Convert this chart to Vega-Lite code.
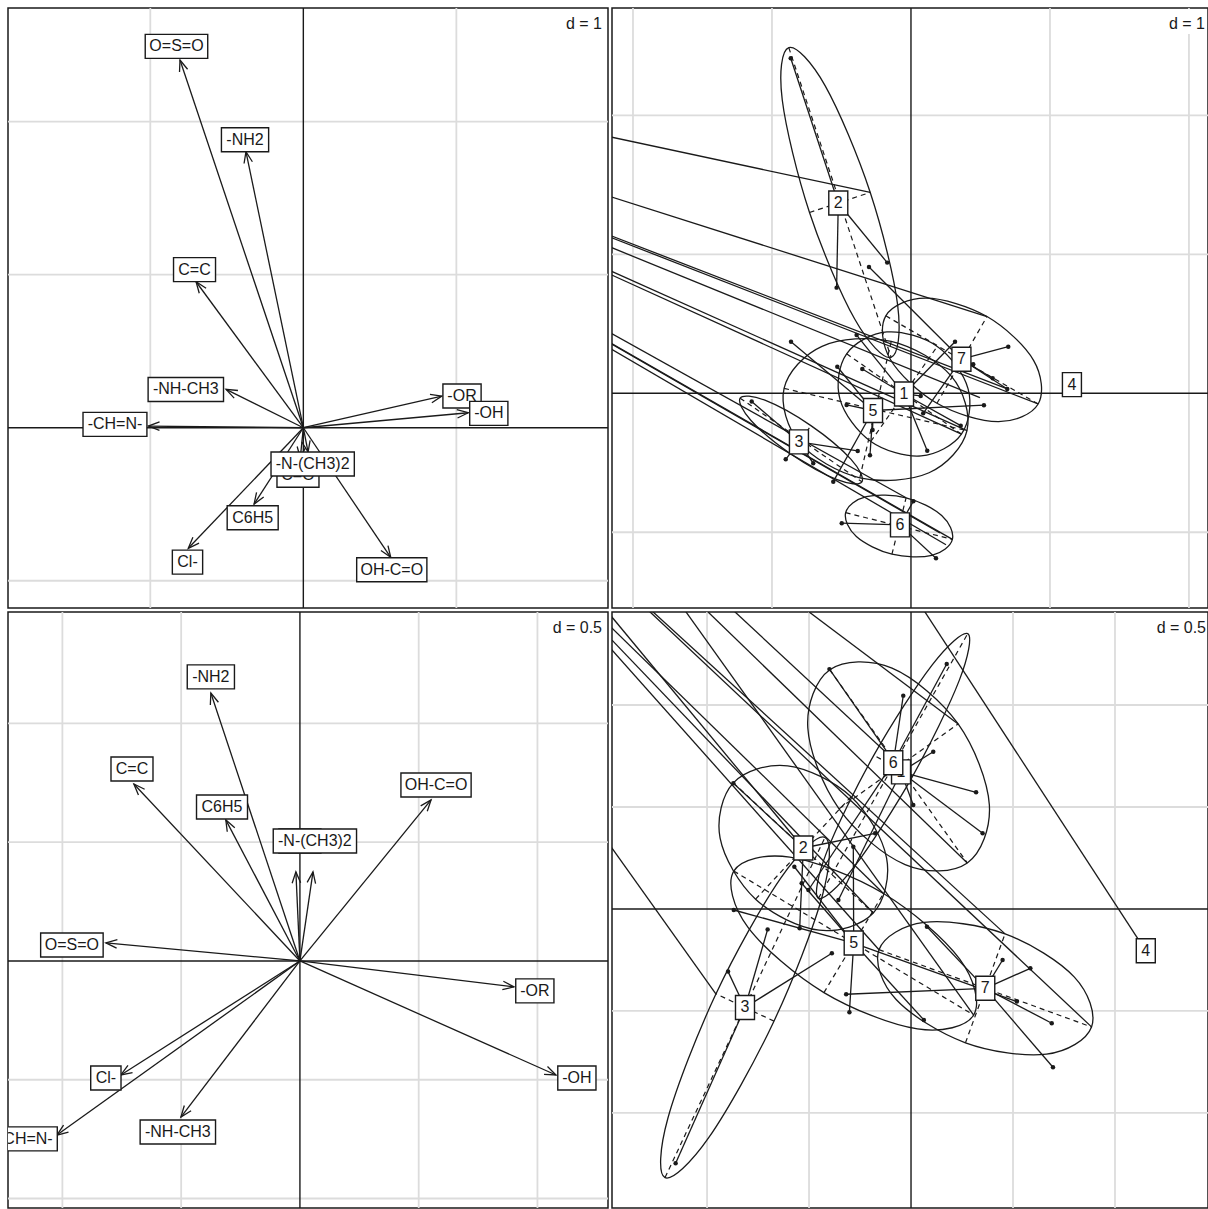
{
"$schema":"https://vega.github.io/schema/vega-lite/v6.json",
"background":"white",
"padding":{"left":6,"top":6,"right":0,"bottom":0},
"spacing":0,
"config":{"view":{"stroke":"#1a1a1a","strokeWidth":1.5},"font":"Liberation Sans"},
"datasets":{
"tl_arrows":[
{"label":"O=S=O","x":-0.806,"y":2.403,"lx":-0.829,"ly":2.492},
{"label":"-NH2","x":-0.375,"y":1.804,"lx":-0.381,"ly":1.882},
{"label":"C=C","x":-0.701,"y":0.954,"lx":-0.711,"ly":1.033},
{"label":"-NH-CH3","x":-0.505,"y":0.251,"lx":-0.768,"ly":0.250},
{"label":"-CH=N-","x":-1.013,"y":0.011,"lx":-1.231,"ly":0.022},
{"label":"C=O","x":-0.020,"y":-0.198,"lx":-0.035,"ly":-0.31},
{"label":"-N-(CH3)2","x":0.031,"y":-0.159,"lx":0.061,"ly":-0.237},
{"label":"C6H5","x":-0.322,"y":-0.499,"lx":-0.331,"ly":-0.588},
{"label":"Cl-","x":-0.752,"y":-0.788,"lx":-0.757,"ly":-0.878},
{"label":"-OR","x":0.905,"y":0.207,"lx":1.037,"ly":0.207},
{"label":"-OH","x":1.078,"y":0.098,"lx":1.212,"ly":0.094},
{"label":"OH-C=O","x":0.571,"y":-0.847,"lx":0.578,"ly":-0.928}
],
"bl_arrows":[
{"label":"-NH2","x":-0.375,"y":1.128,"lx":-0.375,"ly":1.196},
{"label":"C=C","x":-0.699,"y":0.745,"lx":-0.707,"ly":0.808},
{"label":"C6H5","x":-0.312,"y":0.594,"lx":-0.328,"ly":0.648},
{"label":"C=O","x":-0.017,"y":0.375,"lx":0.0,"ly":0.505},
{"label":"-N-(CH3)2","x":0.055,"y":0.375,"lx":0.063,"ly":0.505},
{"label":"OH-C=O","x":0.552,"y":0.678,"lx":0.573,"ly":0.741},
{"label":"O=S=O","x":-0.817,"y":0.076,"lx":-0.960,"ly":0.067},
{"label":"-OR","x":0.901,"y":-0.109,"lx":0.989,"ly":-0.126},
{"label":"-OH","x":1.078,"y":-0.480,"lx":1.166,"ly":-0.493},
{"label":"Cl-","x":-0.754,"y":-0.480,"lx":-0.817,"ly":-0.493},
{"label":"-NH-CH3","x":-0.501,"y":-0.657,"lx":-0.514,"ly":-0.720},
{"label":"-CH=N-","x":-1.023,"y":-0.733,"lx":-1.156,"ly":-0.749}
],
"tr_cen":[
{"label":"1","cx":-0.050,"cy":-0.005},{"label":"2","cx":-0.523,"cy":1.369},{"label":"3","cx":-0.806,"cy":-0.350},{"label":"4","cx":1.158,"cy":0.062},{"label":"5","cx":-0.273,"cy":-0.124},{"label":"6","cx":-0.079,"cy":-0.947},{"label":"7","cx":0.363,"cy":0.245}
],
"tr_pts":[
{"g":"1","x":0.317,"y":0.371},{"g":"1","x":-0.350,"y":0.175},{"g":"1","x":0.070,"y":-0.019},{"g":"1","x":0.358,"y":-0.233},{"g":"1","x":0.117,"y":-0.413},{"g":"1","x":-0.391,"y":0.419},
{"g":"2","x":-0.865,"y":2.410},{"g":"2","x":-0.535,"y":0.760},{"g":"2","x":-0.171,"y":0.940},
{"g":"3","x":-1.146,"y":-0.060},{"g":"3","x":-0.901,"y":-0.475},{"g":"3","x":-0.703,"y":-0.504},{"g":"3","x":-0.383,"y":-0.415},
{"g":"4","x":1.158,"y":0.062},
{"g":"5","x":-0.863,"y":0.371},{"g":"5","x":-0.463,"y":-0.084},{"g":"5","x":0.525,"y":-0.086},{"g":"5","x":-0.295,"y":-0.446},{"g":"5","x":-0.276,"y":-0.264},{"g":"5","x":-0.559,"y":-0.636},{"g":"5","x":-0.530,"y":0.191},
{"g":"6","x":-0.498,"y":-0.935},{"g":"6","x":0.017,"y":-0.777},{"g":"6","x":0.180,"y":-1.187},
{"g":"7","x":-0.302,"y":0.909},{"g":"7","x":0.700,"y":0.335},{"g":"7","x":0.448,"y":0.209},{"g":"7","x":0.588,"y":0.108},{"g":"7","x":0.693,"y":0.031},{"g":"7","x":0.088,"y":-0.144}
],
"tr_ell":[
{"e":"1","o":0,"x":0.363,"y":-0.294},{"e":"1","o":1,"x":0.411,"y":0.032},{"e":"1","o":2,"x":0.189,"y":0.337},{"e":"1","o":3,"x":-0.173,"y":0.441},{"e":"1","o":4,"x":-0.463,"y":0.284},{"e":"1","o":5,"x":-0.511,"y":-0.042},{"e":"1","o":6,"x":-0.289,"y":-0.347},{"e":"1","o":7,"x":0.073,"y":-0.451},
{"e":"2","o":0,"x":-0.143,"y":0.259},{"e":"2","o":1,"x":-0.096,"y":0.636},{"e":"2","o":2,"x":-0.293,"y":1.445},{"e":"2","o":3,"x":-0.617,"y":2.212},{"e":"2","o":4,"x":-0.879,"y":2.487},{"e":"2","o":5,"x":-0.926,"y":2.110},{"e":"2","o":6,"x":-0.730,"y":1.301},{"e":"2","o":7,"x":-0.405,"y":0.534},
{"e":"3","o":0,"x":-0.353,"y":-0.637},{"e":"3","o":1,"x":-0.431,"y":-0.476},{"e":"3","o":2,"x":-0.720,"y":-0.233},{"e":"3","o":3,"x":-1.051,"y":-0.050},{"e":"3","o":4,"x":-1.229,"y":-0.035},{"e":"3","o":5,"x":-1.151,"y":-0.196},{"e":"3","o":6,"x":-0.862,"y":-0.439},{"e":"3","o":7,"x":-0.531,"y":-0.622},
{"e":"5","o":0,"x":0.403,"y":-0.269},{"e":"5","o":1,"x":0.290,"y":0.123},{"e":"5","o":2,"x":-0.142,"y":0.374},{"e":"5","o":3,"x":-0.640,"y":0.338},{"e":"5","o":4,"x":-0.913,"y":0.035},{"e":"5","o":5,"x":-0.800,"y":-0.357},{"e":"5","o":6,"x":-0.368,"y":-0.608},{"e":"5","o":7,"x":0.130,"y":-0.572},
{"e":"6","o":0,"x":0.298,"y":-1.051},{"e":"6","o":1,"x":0.221,"y":-0.879},{"e":"6","o":2,"x":-0.035,"y":-0.752},{"e":"6","o":3,"x":-0.322,"y":-0.744},{"e":"6","o":4,"x":-0.470,"y":-0.859},{"e":"6","o":5,"x":-0.393,"y":-1.031},{"e":"6","o":6,"x":-0.137,"y":-1.158},{"e":"6","o":7,"x":0.150,"y":-1.166},
{"e":"7","o":0,"x":0.915,"y":-0.077},{"e":"7","o":1,"x":0.882,"y":0.237},{"e":"7","o":2,"x":0.547,"y":0.552},{"e":"7","o":3,"x":0.107,"y":0.684},{"e":"7","o":4,"x":-0.181,"y":0.557},{"e":"7","o":5,"x":-0.148,"y":0.243},{"e":"7","o":6,"x":0.187,"y":-0.072},{"e":"7","o":7,"x":0.627,"y":-0.204}
],
"tr_ax":[
{"x":-0.463,"y":0.284,"x2":0.363,"y2":-0.294},{"x":-0.289,"y":-0.347,"x2":0.189,"y2":0.337},
{"x":-0.879,"y":2.487,"x2":-0.143,"y2":0.259},{"x":-0.730,"y":1.301,"x2":-0.293,"y2":1.445},
{"x":-1.229,"y":-0.035,"x2":-0.353,"y2":-0.637},{"x":-0.862,"y":-0.439,"x2":-0.720,"y2":-0.233},
{"x":-0.913,"y":0.035,"x2":0.403,"y2":-0.269},{"x":-0.368,"y":-0.608,"x2":-0.142,"y2":0.374},
{"x":-0.470,"y":-0.859,"x2":0.298,"y2":-1.051},{"x":-0.137,"y":-1.158,"x2":-0.035,"y2":-0.752},
{"x":-0.181,"y":0.557,"x2":0.915,"y2":-0.077},{"x":0.187,"y":-0.072,"x2":0.547,"y2":0.552}
],
"tr_long":[
{"x":-6.266,"y":2.722,"x2":-0.293,"y2":1.445},
{"x":-6.266,"y":2.722,"x2":0.547,"y2":0.552},
{"x":-6.266,"y":2.722,"x2":0.693,"y2":0.031},
{"x":-6.266,"y":2.722,"x2":0.915,"y2":-0.077},
{"x":-6.266,"y":2.722,"x2":0.496,"y2":-0.031},
{"x":-6.266,"y":2.722,"x2":0.363,"y2":-0.294},
{"x":-6.266,"y":2.722,"x2":0.403,"y2":-0.269},
{"x":-6.266,"y":2.722,"x2":-0.035,"y2":-0.752},
{"x":-6.266,"y":2.722,"x2":0.298,"y2":-1.051},
{"x":-6.266,"y":2.722,"x2":0.209,"y2":-1.005},
{"x":-6.266,"y":2.722,"x2":0.252,"y2":-1.090}
],
"br_cen":[
{"label":"1","cx":-0.049,"cy":0.672},{"label":"2","cx":-0.528,"cy":0.299},{"label":"3","cx":-0.814,"cy":-0.483},{"label":"4","cx":1.151,"cy":-0.205},{"label":"5","cx":-0.281,"cy":-0.167},{"label":"6","cx":-0.087,"cy":0.717},{"label":"7","cx":0.364,"cy":-0.389}
],
"br_pts":[
{"g":"1","x":0.319,"y":0.572},{"g":"1","x":0.351,"y":0.371},{"g":"1","x":-0.356,"y":0.044},{"g":"1","x":0.109,"y":0.771},{"g":"1","x":-0.400,"y":1.176},{"g":"1","x":0.011,"y":0.510},
{"g":"2","x":-0.871,"y":0.616},{"g":"2","x":-0.546,"y":-0.095},{"g":"2","x":-0.176,"y":0.371},
{"g":"3","x":-1.154,"y":-1.247},{"g":"3","x":-0.897,"y":-0.307},{"g":"3","x":-0.703,"y":-0.100},{"g":"3","x":-0.388,"y":-0.217},
{"g":"4","x":1.151,"y":-0.205},
{"g":"5","x":-0.869,"y":-0.005},{"g":"5","x":0.519,"y":-0.454},{"g":"5","x":-0.283,"y":0.305},{"g":"5","x":-0.302,"y":-0.506},{"g":"5","x":-0.572,"y":0.207},{"g":"5","x":-0.536,"y":0.126},{"g":"5","x":0.063,"y":-0.544},
{"g":"6","x":0.175,"y":1.201},{"g":"6","x":-0.038,"y":1.046},{"g":"6","x":-0.503,"y":0.093},
{"g":"7","x":0.078,"y":-0.087},{"g":"7","x":0.449,"y":-0.250},{"g":"7","x":0.585,"y":-0.291},{"g":"7","x":0.690,"y":-0.560},{"g":"7","x":0.696,"y":-0.776},{"g":"7","x":-0.318,"y":-0.418}
],
"br_ell":[
{"e":"1","o":0,"x":0.276,"y":0.2255},{"e":"1","o":1,"x":0.384,"y":0.511},{"e":"1","o":2,"x":0.231,"y":0.907},{"e":"1","o":3,"x":-0.093,"y":1.1805},{"e":"1","o":4,"x":-0.398,"y":1.1725},{"e":"1","o":5,"x":-0.506,"y":0.887},{"e":"1","o":6,"x":-0.353,"y":0.491},{"e":"1","o":7,"x":-0.029,"y":0.2175},
{"e":"6","o":0,"x":0.278,"y":1.350},{"e":"6","o":1,"x":0.104,"y":1.197},{"e":"6","o":2,"x":-0.182,"y":0.754},{"e":"6","o":3,"x":-0.413,"y":0.280},{"e":"6","o":4,"x":-0.454,"y":0.052},{"e":"6","o":5,"x":-0.280,"y":0.205},{"e":"6","o":6,"x":0.006,"y":0.648},{"e":"6","o":7,"x":0.237,"y":1.122},
{"e":"2","o":0,"x":-0.185,"y":-0.020},{"e":"2","o":1,"x":-0.120,"y":0.251},{"e":"2","o":2,"x":-0.294,"y":0.550},{"e":"2","o":3,"x":-0.605,"y":0.702},{"e":"2","o":4,"x":-0.871,"y":0.618},{"e":"2","o":5,"x":-0.936,"y":0.347},{"e":"2","o":6,"x":-0.762,"y":0.048},{"e":"2","o":7,"x":-0.451,"y":-0.104},
{"e":"3","o":0,"x":-0.422,"y":0.351},{"e":"3","o":1,"x":-0.637,"y":0.154},{"e":"3","o":2,"x":-0.956,"y":-0.416},{"e":"3","o":3,"x":-1.192,"y":-1.026},{"e":"3","o":4,"x":-1.206,"y":-1.317},{"e":"3","o":5,"x":-0.991,"y":-1.120},{"e":"3","o":6,"x":-0.672,"y":-0.550},{"e":"3","o":7,"x":-0.436,"y":0.060},
{"e":"5","o":0,"x":0.307,"y":-0.520},{"e":"5","o":1,"x":0.238,"y":-0.245},{"e":"5","o":2,"x":-0.135,"y":0.076},{"e":"5","o":3,"x":-0.594,"y":0.254},{"e":"5","o":4,"x":-0.869,"y":0.186},{"e":"5","o":5,"x":-0.800,"y":-0.089},{"e":"5","o":6,"x":-0.427,"y":-0.410},{"e":"5","o":7,"x":0.0315,"y":-0.588},
{"e":"7","o":0,"x":0.885,"y":-0.5785},{"e":"7","o":1,"x":0.801,"y":-0.334},{"e":"7","o":2,"x":0.461,"y":-0.122},{"e":"7","o":3,"x":0.064,"y":-0.066},{"e":"7","o":4,"x":-0.157,"y":-0.1995},{"e":"7","o":5,"x":-0.073,"y":-0.444},{"e":"7","o":6,"x":0.267,"y":-0.656},{"e":"7","o":7,"x":0.664,"y":-0.712}
],
"br_ax":[
{"x":-0.398,"y":1.1725,"x2":0.276,"y2":0.2255},{"x":-0.353,"y":0.491,"x2":0.231,"y2":0.907},
{"x":-0.454,"y":0.052,"x2":0.278,"y2":1.350},{"x":0.006,"y":0.648,"x2":-0.182,"y2":0.754},
{"x":-0.871,"y":0.618,"x2":-0.185,"y2":-0.020},{"x":-0.762,"y":0.048,"x2":-0.294,"y2":0.550},
{"x":-1.206,"y":-1.317,"x2":-0.422,"y2":0.351},{"x":-0.672,"y":-0.550,"x2":-0.956,"y2":-0.416},
{"x":-0.869,"y":0.186,"x2":0.307,"y2":-0.520},{"x":-0.427,"y":-0.410,"x2":-0.135,"y2":0.076},
{"x":-0.157,"y":-0.1995,"x2":0.885,"y2":-0.5785},{"x":0.267,"y":-0.656,"x2":0.461,"y2":-0.122}
],
"br_long":[
{"x":-1.525,"y":1.502,"x2":-0.528,"y2":0.299},
{"x":-1.525,"y":1.435,"x2":-0.135,"y2":0.076},
{"x":-1.525,"y":1.380,"x2":-0.185,"y2":-0.020},
{"x":-1.525,"y":1.336,"x2":-0.157,"y2":-0.200},
{"x":-1.525,"y":0.381,"x2":-0.956,"y2":-0.417},
{"x":-1.342,"y":1.515,"x2":0.885,"y2":-0.578},
{"x":-1.329,"y":1.515,"x2":0.461,"y2":-0.122},
{"x":-1.145,"y":1.515,"x2":0.307,"y2":-0.520},
{"x":-1.056,"y":1.515,"x2":0.276,"y2":0.2255},
{"x":-0.926,"y":1.515,"x2":0.006,"y2":0.648},
{"x":-0.578,"y":1.515,"x2":0.231,"y2":0.907},
{"x":0.030,"y":1.515,"x2":1.151,"y2":-0.205}
]
},
"vconcat":[
{"hconcat":[
{"width":600,"height":600,"layer":[
{"data":{"values":[{"v":-1},{"v":1}]},"mark":{"type":"rule","stroke":"#dcdcdc","strokeWidth":1.8},"encoding":{"x":{"field":"v","type":"quantitative","scale":{"domain":[-1.930,1.991],"nice":false,"zero":false},"axis":null}}},
{"data":{"values":[{"v":-1},{"v":1},{"v":2}]},"mark":{"type":"rule","stroke":"#dcdcdc","strokeWidth":1.8},"encoding":{"y":{"field":"v","type":"quantitative","scale":{"domain":[-1.178,2.743],"nice":false,"zero":false},"axis":null}}},
{"data":{"values":[{"v":0}]},"mark":{"type":"rule","stroke":"#1a1a1a","strokeWidth":1.4},"encoding":{"x":{"field":"v","type":"quantitative","scale":{"domain":[-1.930,1.991],"nice":false,"zero":false},"axis":null}}},
{"data":{"values":[{"v":0}]},"mark":{"type":"rule","stroke":"#1a1a1a","strokeWidth":1.4},"encoding":{"y":{"field":"v","type":"quantitative","scale":{"domain":[-1.178,2.743],"nice":false,"zero":false},"axis":null}}},
{"data":{"name":"tl_arrows"},"mark":{"type":"rule","stroke":"#1a1a1a","strokeWidth":1.3,"clip":true},"encoding":{"x":{"field":"x","type":"quantitative","scale":{"domain":[-1.930,1.991],"nice":false,"zero":false},"axis":null},"y":{"field":"y","type":"quantitative","scale":{"domain":[-1.178,2.743],"nice":false,"zero":false},"axis":null},"x2":{"datum":0},"y2":{"datum":0}}},
{"data":{"name":"tl_arrows"},"transform":[{"calculate":"atan2(datum.x, datum.y)*180/PI","as":"ang"}],"mark":{"type":"point","shape":"M-0.38,1L0,0L0.38,1","filled":false,"stroke":"#1a1a1a","strokeWidth":1.3,"size":500,"opacity":1,"clip":true},"encoding":{"x":{"field":"x","type":"quantitative","scale":{"domain":[-1.930,1.991],"nice":false,"zero":false},"axis":null},"y":{"field":"y","type":"quantitative","scale":{"domain":[-1.178,2.743],"nice":false,"zero":false},"axis":null},"angle":{"field":"ang","type":"quantitative","scale":null}}},
{"data":{"name":"tl_arrows"},"transform":[{"filter":"datum.label == 'C=O'"}],"mark":{"type":"rect","fill":"white","stroke":"#1a1a1a","strokeWidth":1.4,"clip":true,"yOffset":-12,"y2Offset":12,"xOffset":{"expr":"-(11.5*length(datum.label)-2.5*length(replace(datum.label,regexp('[^=0-9]','g'),''))-6.3*length(replace(datum.label,regexp('[^-()]','g'),''))-7.9*length(replace(datum.label,regexp('[^l]','g'),''))+10)/2"},"x2Offset":{"expr":"(11.5*length(datum.label)-2.5*length(replace(datum.label,regexp('[^=0-9]','g'),''))-6.3*length(replace(datum.label,regexp('[^-()]','g'),''))-7.9*length(replace(datum.label,regexp('[^l]','g'),''))+10)/2"}},"encoding":{"x":{"field":"lx","type":"quantitative","scale":{"domain":[-1.930,1.991],"nice":false,"zero":false},"axis":null},"x2":{"field":"lx"},"y":{"field":"ly","type":"quantitative","scale":{"domain":[-1.178,2.743],"nice":false,"zero":false},"axis":null},"y2":{"field":"ly"}}},
{"data":{"name":"tl_arrows"},"transform":[{"filter":"datum.label == 'C=O'"}],"mark":{"type":"text","font":"Liberation Sans","fontSize":16,"color":"#1a1a1a","clip":true},"encoding":{"x":{"field":"lx","type":"quantitative","scale":{"domain":[-1.930,1.991],"nice":false,"zero":false},"axis":null},"y":{"field":"ly","type":"quantitative","scale":{"domain":[-1.178,2.743],"nice":false,"zero":false},"axis":null},"text":{"field":"label"}}},
{"data":{"name":"tl_arrows"},"transform":[{"filter":"datum.label != 'C=O'"}],"mark":{"type":"rect","fill":"white","stroke":"#1a1a1a","strokeWidth":1.4,"clip":true,"yOffset":-12,"y2Offset":12,"xOffset":{"expr":"-(11.5*length(datum.label)-2.5*length(replace(datum.label,regexp('[^=0-9]','g'),''))-6.3*length(replace(datum.label,regexp('[^-()]','g'),''))-7.9*length(replace(datum.label,regexp('[^l]','g'),''))+10)/2"},"x2Offset":{"expr":"(11.5*length(datum.label)-2.5*length(replace(datum.label,regexp('[^=0-9]','g'),''))-6.3*length(replace(datum.label,regexp('[^-()]','g'),''))-7.9*length(replace(datum.label,regexp('[^l]','g'),''))+10)/2"}},"encoding":{"x":{"field":"lx","type":"quantitative","scale":{"domain":[-1.930,1.991],"nice":false,"zero":false},"axis":null},"x2":{"field":"lx"},"y":{"field":"ly","type":"quantitative","scale":{"domain":[-1.178,2.743],"nice":false,"zero":false},"axis":null},"y2":{"field":"ly"}}},
{"data":{"name":"tl_arrows"},"transform":[{"filter":"datum.label != 'C=O'"}],"mark":{"type":"text","font":"Liberation Sans","fontSize":16,"color":"#1a1a1a","clip":true},"encoding":{"x":{"field":"lx","type":"quantitative","scale":{"domain":[-1.930,1.991],"nice":false,"zero":false},"axis":null},"y":{"field":"ly","type":"quantitative","scale":{"domain":[-1.178,2.743],"nice":false,"zero":false},"axis":null},"text":{"field":"label"}}},
{"data":{"values":[{"t":"d = 1"}]},"mark":{"type":"rect","fill":"white","strokeWidth":0,"xOffset":-46,"x2Offset":-1,"yOffset":1,"y2Offset":28},"encoding":{"x":{"datum":1.991,"type":"quantitative","scale":{"domain":[-1.930,1.991],"nice":false,"zero":false},"axis":null},"x2":{"datum":1.991},"y":{"datum":2.743,"type":"quantitative","scale":{"domain":[-1.178,2.743],"nice":false,"zero":false},"axis":null},"y2":{"datum":2.743}}},
{"data":{"values":[{"t":"d = 1"}]},"mark":{"type":"text","font":"Liberation Sans","fontSize":16,"color":"#1a1a1a","align":"right","baseline":"top","dx":-6,"dy":8},"encoding":{"x":{"datum":1.991,"type":"quantitative","scale":{"domain":[-1.930,1.991],"nice":false,"zero":false},"axis":null},"y":{"datum":2.743,"type":"quantitative","scale":{"domain":[-1.178,2.743],"nice":false,"zero":false},"axis":null},"text":{"field":"t"}}}
]},
{"width":596,"height":600,"layer":[
{"data":{"values":[{"v":-2},{"v":-1},{"v":1},{"v":2}]},"mark":{"type":"rule","stroke":"#dcdcdc","strokeWidth":1.8},"encoding":{"x":{"field":"v","type":"quantitative","scale":{"domain":[-2.151,2.137],"nice":false,"zero":false},"axis":null}}},
{"data":{"values":[{"v":-1},{"v":1},{"v":2}]},"mark":{"type":"rule","stroke":"#dcdcdc","strokeWidth":1.8},"encoding":{"y":{"field":"v","type":"quantitative","scale":{"domain":[-1.545,2.772],"nice":false,"zero":false},"axis":null}}},
{"data":{"values":[{"v":0}]},"mark":{"type":"rule","stroke":"#1a1a1a","strokeWidth":1.4},"encoding":{"x":{"field":"v","type":"quantitative","scale":{"domain":[-2.151,2.137],"nice":false,"zero":false},"axis":null}}},
{"data":{"values":[{"v":0}]},"mark":{"type":"rule","stroke":"#1a1a1a","strokeWidth":1.4},"encoding":{"y":{"field":"v","type":"quantitative","scale":{"domain":[-1.545,2.772],"nice":false,"zero":false},"axis":null}}},
{"data":{"name":"tr_long"},"mark":{"type":"rule","stroke":"#1a1a1a","strokeWidth":1.3,"clip":true},"encoding":{"x":{"field":"x","type":"quantitative","scale":{"domain":[-2.151,2.137],"nice":false,"zero":false},"axis":null},"y":{"field":"y","type":"quantitative","scale":{"domain":[-1.545,2.772],"nice":false,"zero":false},"axis":null},"x2":{"field":"x2"},"y2":{"field":"y2"}}},
{"data":{"name":"tr_ax"},"mark":{"type":"rule","stroke":"#1a1a1a","strokeWidth":1.2,"strokeDash":[5,4],"clip":true},"encoding":{"x":{"field":"x","type":"quantitative","scale":{"domain":[-2.151,2.137],"nice":false,"zero":false},"axis":null},"y":{"field":"y","type":"quantitative","scale":{"domain":[-1.545,2.772],"nice":false,"zero":false},"axis":null},"x2":{"field":"x2"},"y2":{"field":"y2"}}},
{"data":{"name":"tr_ell"},"mark":{"type":"line","interpolate":"cardinal-closed","color":"#1a1a1a","strokeWidth":1.3,"clip":true},"encoding":{"x":{"field":"x","type":"quantitative","scale":{"domain":[-2.151,2.137],"nice":false,"zero":false},"axis":null},"y":{"field":"y","type":"quantitative","scale":{"domain":[-1.545,2.772],"nice":false,"zero":false},"axis":null},"detail":{"field":"e"},"order":{"field":"o"}}},
{"data":{"name":"tr_pts"},"transform":[{"lookup":"g","from":{"data":{"name":"tr_cen"},"key":"label","fields":["cx","cy"]}}],"mark":{"type":"rule","stroke":"#1a1a1a","strokeWidth":1.3,"clip":true},"encoding":{"x":{"field":"x","type":"quantitative","scale":{"domain":[-2.151,2.137],"nice":false,"zero":false},"axis":null},"y":{"field":"y","type":"quantitative","scale":{"domain":[-1.545,2.772],"nice":false,"zero":false},"axis":null},"x2":{"field":"cx"},"y2":{"field":"cy"}}},
{"data":{"name":"tr_pts"},"mark":{"type":"point","shape":"circle","filled":true,"color":"#1a1a1a","size":20,"opacity":1,"strokeWidth":0,"clip":true},"encoding":{"x":{"field":"x","type":"quantitative","scale":{"domain":[-2.151,2.137],"nice":false,"zero":false},"axis":null},"y":{"field":"y","type":"quantitative","scale":{"domain":[-1.545,2.772],"nice":false,"zero":false},"axis":null}}},
{"data":{"name":"tr_cen"},"mark":{"type":"rect","fill":"white","stroke":"#1a1a1a","strokeWidth":1.4,"clip":true,"yOffset":-12,"y2Offset":12,"xOffset":-9.5,"x2Offset":9.5},"encoding":{"x":{"field":"cx","type":"quantitative","scale":{"domain":[-2.151,2.137],"nice":false,"zero":false},"axis":null},"x2":{"field":"cx"},"y":{"field":"cy","type":"quantitative","scale":{"domain":[-1.545,2.772],"nice":false,"zero":false},"axis":null},"y2":{"field":"cy"}}},
{"data":{"name":"tr_cen"},"mark":{"type":"text","font":"Liberation Sans","fontSize":16,"color":"#1a1a1a","clip":true},"encoding":{"x":{"field":"cx","type":"quantitative","scale":{"domain":[-2.151,2.137],"nice":false,"zero":false},"axis":null},"y":{"field":"cy","type":"quantitative","scale":{"domain":[-1.545,2.772],"nice":false,"zero":false},"axis":null},"text":{"field":"label"}}},
{"data":{"values":[{"t":"d = 1"}]},"mark":{"type":"rect","fill":"white","strokeWidth":0,"xOffset":-44,"x2Offset":-1,"yOffset":1,"y2Offset":26},"encoding":{"x":{"datum":2.137,"type":"quantitative","scale":{"domain":[-2.151,2.137],"nice":false,"zero":false},"axis":null},"x2":{"datum":2.137},"y":{"datum":2.772,"type":"quantitative","scale":{"domain":[-1.545,2.772],"nice":false,"zero":false},"axis":null},"y2":{"datum":2.772}}},
{"data":{"values":[{"t":"d = 1"}]},"mark":{"type":"text","font":"Liberation Sans","fontSize":16,"color":"#1a1a1a","align":"right","baseline":"top","dx":-3,"dy":8},"encoding":{"x":{"datum":2.137,"type":"quantitative","scale":{"domain":[-2.151,2.137],"nice":false,"zero":false},"axis":null},"y":{"datum":2.772,"type":"quantitative","scale":{"domain":[-1.545,2.772],"nice":false,"zero":false},"axis":null},"text":{"field":"t"}}}
]}
],"spacing":0},
{"hconcat":[
{"width":600,"height":596,"layer":[
{"data":{"values":[{"v":-1},{"v":-0.5},{"v":0.5},{"v":1}]},"mark":{"type":"rule","stroke":"#dcdcdc","strokeWidth":1.8},"encoding":{"x":{"field":"v","type":"quantitative","scale":{"domain":[-1.229,1.297],"nice":false,"zero":false},"axis":null}}},
{"data":{"values":[{"v":-1},{"v":-0.5},{"v":0.5},{"v":1}]},"mark":{"type":"rule","stroke":"#dcdcdc","strokeWidth":1.8},"encoding":{"y":{"field":"v","type":"quantitative","scale":{"domain":[-1.040,1.469],"nice":false,"zero":false},"axis":null}}},
{"data":{"values":[{"v":0}]},"mark":{"type":"rule","stroke":"#1a1a1a","strokeWidth":1.4},"encoding":{"x":{"field":"v","type":"quantitative","scale":{"domain":[-1.229,1.297],"nice":false,"zero":false},"axis":null}}},
{"data":{"values":[{"v":0}]},"mark":{"type":"rule","stroke":"#1a1a1a","strokeWidth":1.4},"encoding":{"y":{"field":"v","type":"quantitative","scale":{"domain":[-1.040,1.469],"nice":false,"zero":false},"axis":null}}},
{"data":{"name":"bl_arrows"},"mark":{"type":"rule","stroke":"#1a1a1a","strokeWidth":1.3,"clip":true},"encoding":{"x":{"field":"x","type":"quantitative","scale":{"domain":[-1.229,1.297],"nice":false,"zero":false},"axis":null},"y":{"field":"y","type":"quantitative","scale":{"domain":[-1.040,1.469],"nice":false,"zero":false},"axis":null},"x2":{"datum":0},"y2":{"datum":0}}},
{"data":{"name":"bl_arrows"},"transform":[{"calculate":"atan2(datum.x, datum.y)*180/PI","as":"ang"}],"mark":{"type":"point","shape":"M-0.38,1L0,0L0.38,1","filled":false,"stroke":"#1a1a1a","strokeWidth":1.3,"size":500,"opacity":1,"clip":true},"encoding":{"x":{"field":"x","type":"quantitative","scale":{"domain":[-1.229,1.297],"nice":false,"zero":false},"axis":null},"y":{"field":"y","type":"quantitative","scale":{"domain":[-1.040,1.469],"nice":false,"zero":false},"axis":null},"angle":{"field":"ang","type":"quantitative","scale":null}}},
{"data":{"name":"bl_arrows"},"transform":[{"filter":"datum.label == 'C=O'"}],"mark":{"type":"rect","fill":"white","stroke":"#1a1a1a","strokeWidth":1.4,"clip":true,"yOffset":-12,"y2Offset":12,"xOffset":{"expr":"-(11.5*length(datum.label)-2.5*length(replace(datum.label,regexp('[^=0-9]','g'),''))-6.3*length(replace(datum.label,regexp('[^-()]','g'),''))-7.9*length(replace(datum.label,regexp('[^l]','g'),''))+10)/2"},"x2Offset":{"expr":"(11.5*length(datum.label)-2.5*length(replace(datum.label,regexp('[^=0-9]','g'),''))-6.3*length(replace(datum.label,regexp('[^-()]','g'),''))-7.9*length(replace(datum.label,regexp('[^l]','g'),''))+10)/2"}},"encoding":{"x":{"field":"lx","type":"quantitative","scale":{"domain":[-1.229,1.297],"nice":false,"zero":false},"axis":null},"x2":{"field":"lx"},"y":{"field":"ly","type":"quantitative","scale":{"domain":[-1.040,1.469],"nice":false,"zero":false},"axis":null},"y2":{"field":"ly"}}},
{"data":{"name":"bl_arrows"},"transform":[{"filter":"datum.label == 'C=O'"}],"mark":{"type":"text","font":"Liberation Sans","fontSize":16,"color":"#1a1a1a","clip":true},"encoding":{"x":{"field":"lx","type":"quantitative","scale":{"domain":[-1.229,1.297],"nice":false,"zero":false},"axis":null},"y":{"field":"ly","type":"quantitative","scale":{"domain":[-1.040,1.469],"nice":false,"zero":false},"axis":null},"text":{"field":"label"}}},
{"data":{"name":"bl_arrows"},"transform":[{"filter":"datum.label != 'C=O'"}],"mark":{"type":"rect","fill":"white","stroke":"#1a1a1a","strokeWidth":1.4,"clip":true,"yOffset":-12,"y2Offset":12,"xOffset":{"expr":"-(11.5*length(datum.label)-2.5*length(replace(datum.label,regexp('[^=0-9]','g'),''))-6.3*length(replace(datum.label,regexp('[^-()]','g'),''))-7.9*length(replace(datum.label,regexp('[^l]','g'),''))+10)/2"},"x2Offset":{"expr":"(11.5*length(datum.label)-2.5*length(replace(datum.label,regexp('[^=0-9]','g'),''))-6.3*length(replace(datum.label,regexp('[^-()]','g'),''))-7.9*length(replace(datum.label,regexp('[^l]','g'),''))+10)/2"}},"encoding":{"x":{"field":"lx","type":"quantitative","scale":{"domain":[-1.229,1.297],"nice":false,"zero":false},"axis":null},"x2":{"field":"lx"},"y":{"field":"ly","type":"quantitative","scale":{"domain":[-1.040,1.469],"nice":false,"zero":false},"axis":null},"y2":{"field":"ly"}}},
{"data":{"name":"bl_arrows"},"transform":[{"filter":"datum.label != 'C=O'"}],"mark":{"type":"text","font":"Liberation Sans","fontSize":16,"color":"#1a1a1a","clip":true},"encoding":{"x":{"field":"lx","type":"quantitative","scale":{"domain":[-1.229,1.297],"nice":false,"zero":false},"axis":null},"y":{"field":"ly","type":"quantitative","scale":{"domain":[-1.040,1.469],"nice":false,"zero":false},"axis":null},"text":{"field":"label"}}},
{"data":{"values":[{"t":"d = 0.5"}]},"mark":{"type":"rect","fill":"white","strokeWidth":0,"xOffset":-62,"x2Offset":-1,"yOffset":1,"y2Offset":28},"encoding":{"x":{"datum":1.297,"type":"quantitative","scale":{"domain":[-1.229,1.297],"nice":false,"zero":false},"axis":null},"x2":{"datum":1.297},"y":{"datum":1.469,"type":"quantitative","scale":{"domain":[-1.040,1.469],"nice":false,"zero":false},"axis":null},"y2":{"datum":1.469}}},
{"data":{"values":[{"t":"d = 0.5"}]},"mark":{"type":"text","font":"Liberation Sans","fontSize":16,"color":"#1a1a1a","align":"right","baseline":"top","dx":-6,"dy":8},"encoding":{"x":{"datum":1.297,"type":"quantitative","scale":{"domain":[-1.229,1.297],"nice":false,"zero":false},"axis":null},"y":{"datum":1.469,"type":"quantitative","scale":{"domain":[-1.040,1.469],"nice":false,"zero":false},"axis":null},"text":{"field":"t"}}}
]},
{"width":596,"height":596,"layer":[
{"data":{"values":[{"v":-1},{"v":-0.5},{"v":0.5},{"v":1}]},"mark":{"type":"rule","stroke":"#dcdcdc","strokeWidth":1.8},"encoding":{"x":{"field":"v","type":"quantitative","scale":{"domain":[-1.466,1.456],"nice":false,"zero":false},"axis":null}}},
{"data":{"values":[{"v":-1},{"v":-0.5},{"v":0.5},{"v":1}]},"mark":{"type":"rule","stroke":"#dcdcdc","strokeWidth":1.8},"encoding":{"y":{"field":"v","type":"quantitative","scale":{"domain":[-1.466,1.456],"nice":false,"zero":false},"axis":null}}},
{"data":{"values":[{"v":0}]},"mark":{"type":"rule","stroke":"#1a1a1a","strokeWidth":1.4},"encoding":{"x":{"field":"v","type":"quantitative","scale":{"domain":[-1.466,1.456],"nice":false,"zero":false},"axis":null}}},
{"data":{"values":[{"v":0}]},"mark":{"type":"rule","stroke":"#1a1a1a","strokeWidth":1.4},"encoding":{"y":{"field":"v","type":"quantitative","scale":{"domain":[-1.466,1.456],"nice":false,"zero":false},"axis":null}}},
{"data":{"name":"br_long"},"mark":{"type":"rule","stroke":"#1a1a1a","strokeWidth":1.3,"clip":true},"encoding":{"x":{"field":"x","type":"quantitative","scale":{"domain":[-1.466,1.456],"nice":false,"zero":false},"axis":null},"y":{"field":"y","type":"quantitative","scale":{"domain":[-1.466,1.456],"nice":false,"zero":false},"axis":null},"x2":{"field":"x2"},"y2":{"field":"y2"}}},
{"data":{"name":"br_ax"},"mark":{"type":"rule","stroke":"#1a1a1a","strokeWidth":1.2,"strokeDash":[5,4],"clip":true},"encoding":{"x":{"field":"x","type":"quantitative","scale":{"domain":[-1.466,1.456],"nice":false,"zero":false},"axis":null},"y":{"field":"y","type":"quantitative","scale":{"domain":[-1.466,1.456],"nice":false,"zero":false},"axis":null},"x2":{"field":"x2"},"y2":{"field":"y2"}}},
{"data":{"name":"br_ell"},"mark":{"type":"line","interpolate":"cardinal-closed","color":"#1a1a1a","strokeWidth":1.3,"clip":true},"encoding":{"x":{"field":"x","type":"quantitative","scale":{"domain":[-1.466,1.456],"nice":false,"zero":false},"axis":null},"y":{"field":"y","type":"quantitative","scale":{"domain":[-1.466,1.456],"nice":false,"zero":false},"axis":null},"detail":{"field":"e"},"order":{"field":"o"}}},
{"data":{"name":"br_pts"},"transform":[{"lookup":"g","from":{"data":{"name":"br_cen"},"key":"label","fields":["cx","cy"]}}],"mark":{"type":"rule","stroke":"#1a1a1a","strokeWidth":1.3,"clip":true},"encoding":{"x":{"field":"x","type":"quantitative","scale":{"domain":[-1.466,1.456],"nice":false,"zero":false},"axis":null},"y":{"field":"y","type":"quantitative","scale":{"domain":[-1.466,1.456],"nice":false,"zero":false},"axis":null},"x2":{"field":"cx"},"y2":{"field":"cy"}}},
{"data":{"name":"br_pts"},"mark":{"type":"point","shape":"circle","filled":true,"color":"#1a1a1a","size":20,"opacity":1,"strokeWidth":0,"clip":true},"encoding":{"x":{"field":"x","type":"quantitative","scale":{"domain":[-1.466,1.456],"nice":false,"zero":false},"axis":null},"y":{"field":"y","type":"quantitative","scale":{"domain":[-1.466,1.456],"nice":false,"zero":false},"axis":null}}},
{"data":{"name":"br_cen"},"transform":[{"filter":"datum.label == '1'"}],"mark":{"type":"rect","fill":"white","stroke":"#1a1a1a","strokeWidth":1.4,"clip":true,"yOffset":-12,"y2Offset":12,"xOffset":-9.5,"x2Offset":9.5},"encoding":{"x":{"field":"cx","type":"quantitative","scale":{"domain":[-1.466,1.456],"nice":false,"zero":false},"axis":null},"x2":{"field":"cx"},"y":{"field":"cy","type":"quantitative","scale":{"domain":[-1.466,1.456],"nice":false,"zero":false},"axis":null},"y2":{"field":"cy"}}},
{"data":{"name":"br_cen"},"transform":[{"filter":"datum.label == '1'"}],"mark":{"type":"text","font":"Liberation Sans","fontSize":16,"color":"#1a1a1a","clip":true},"encoding":{"x":{"field":"cx","type":"quantitative","scale":{"domain":[-1.466,1.456],"nice":false,"zero":false},"axis":null},"y":{"field":"cy","type":"quantitative","scale":{"domain":[-1.466,1.456],"nice":false,"zero":false},"axis":null},"text":{"field":"label"}}},
{"data":{"name":"br_cen"},"transform":[{"filter":"datum.label != '1'"}],"mark":{"type":"rect","fill":"white","stroke":"#1a1a1a","strokeWidth":1.4,"clip":true,"yOffset":-12,"y2Offset":12,"xOffset":-9.5,"x2Offset":9.5},"encoding":{"x":{"field":"cx","type":"quantitative","scale":{"domain":[-1.466,1.456],"nice":false,"zero":false},"axis":null},"x2":{"field":"cx"},"y":{"field":"cy","type":"quantitative","scale":{"domain":[-1.466,1.456],"nice":false,"zero":false},"axis":null},"y2":{"field":"cy"}}},
{"data":{"name":"br_cen"},"transform":[{"filter":"datum.label != '1'"}],"mark":{"type":"text","font":"Liberation Sans","fontSize":16,"color":"#1a1a1a","clip":true},"encoding":{"x":{"field":"cx","type":"quantitative","scale":{"domain":[-1.466,1.456],"nice":false,"zero":false},"axis":null},"y":{"field":"cy","type":"quantitative","scale":{"domain":[-1.466,1.456],"nice":false,"zero":false},"axis":null},"text":{"field":"label"}}},
{"data":{"values":[{"t":"d = 0.5"}]},"mark":{"type":"rect","fill":"white","strokeWidth":0,"xOffset":-58,"x2Offset":-1,"yOffset":1,"y2Offset":26},"encoding":{"x":{"datum":1.456,"type":"quantitative","scale":{"domain":[-1.466,1.456],"nice":false,"zero":false},"axis":null},"x2":{"datum":1.456},"y":{"datum":1.456,"type":"quantitative","scale":{"domain":[-1.466,1.456],"nice":false,"zero":false},"axis":null},"y2":{"datum":1.456}}},
{"data":{"values":[{"t":"d = 0.5"}]},"mark":{"type":"text","font":"Liberation Sans","fontSize":16,"color":"#1a1a1a","align":"right","baseline":"top","dx":-2,"dy":8},"encoding":{"x":{"datum":1.456,"type":"quantitative","scale":{"domain":[-1.466,1.456],"nice":false,"zero":false},"axis":null},"y":{"datum":1.456,"type":"quantitative","scale":{"domain":[-1.466,1.456],"nice":false,"zero":false},"axis":null},"text":{"field":"t"}}}
]}
],"spacing":0}
]
}
